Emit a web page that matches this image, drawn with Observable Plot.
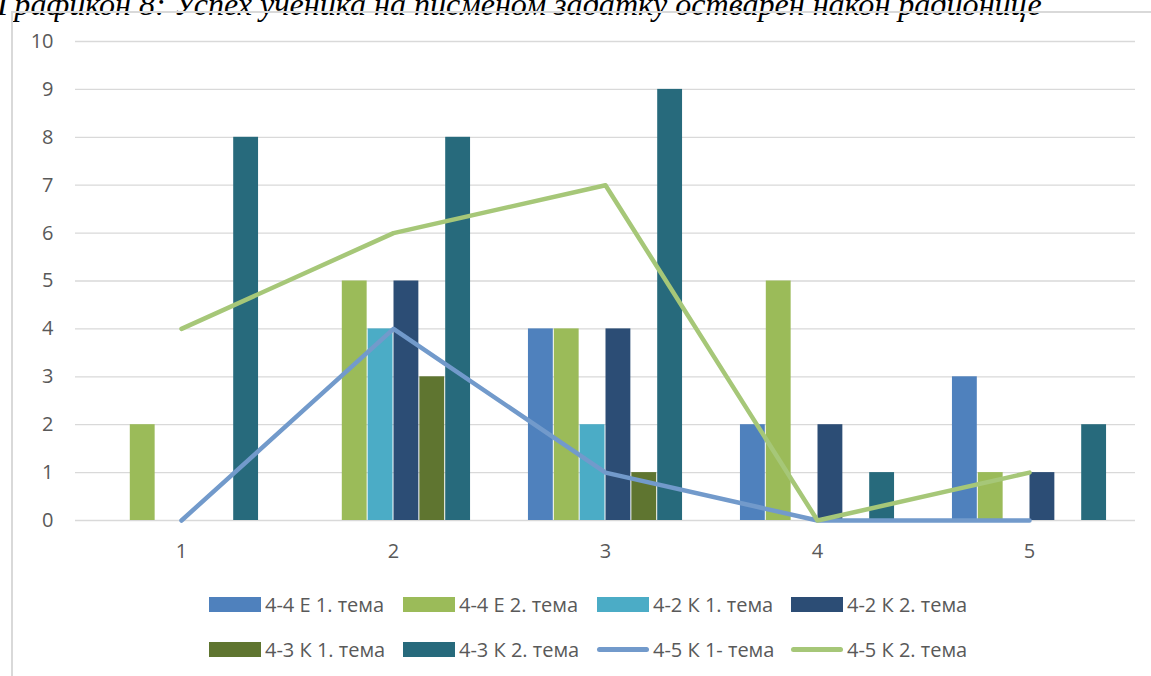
<!DOCTYPE html>
<html>
<head>
<meta charset="utf-8">
<script src="https://cdn.jsdelivr.net/npm/d3@7"></script>
<script src="https://cdn.jsdelivr.net/npm/@observablehq/plot@0.6"></script>
<style>
  html, body { margin: 0; padding: 0; background: #fff; }
  body { width: 1151px; height: 676px; overflow: hidden; position: relative; font-family: "Open Sans", sans-serif; }
  #title { position: absolute; left: -3px; top: -12px; white-space: nowrap; font-family: "Liberation Serif", "Times New Roman", serif; font-style: italic; font-size: 29px; line-height: 1; color: #000; }
  #frame { position: absolute; left: 11px; top: 11px; width: 1200px; height: 700px; border-left: 2px solid #d9d9d9; border-top: 2px solid #d9d9d9; }
  #chart { position: absolute; left: 0; top: 0; }
  .item { position: absolute; display: flex; align-items: center; height: 30px; font-size: 20px; color: #595959; white-space: nowrap; }
  .key { width: 52px; height: 15px; margin-right: 4px; flex: none; }
  .key.line { height: 5px; border-radius: 3px; }
</style>
</head>
<body>
<div id="title"></div>
<div id="chart"></div>
<div id="frame"></div>
<div id="legend"></div>
<script>
// Title and category axis
const titleText = "Графикон 8: Успех ученика на писменом задатку остварен након радионице";
const categories = [1, 2, 3, 4, 5];
const yTicks = [0, 1, 2, 3, 4, 5, 6, 7, 8, 9, 10];

// Column series (number of pupils per grade)
const barSeries = ["4-4 Е 1. тема", "4-4 Е 2. тема", "4-2 К 1. тема", "4-2 К 2. тема", "4-3 К 1. тема", "4-3 К 2. тема"];
const e44t1 = [0, 0, 4, 2, 3];
const e44t2 = [2, 5, 4, 5, 1];
const k42t1 = [0, 4, 2, 0, 0];
const k42t2 = [0, 5, 4, 2, 1];
const k43t1 = [0, 3, 1, 0, 0];
const k43t2 = [8, 8, 9, 1, 2];
const barColors = ["#4F81BD", "#9BBB59", "#4BACC6", "#2C4D75", "#5F7530", "#276A7C"];

// Line series
const lineSeries = ["4-5 К 1- тема", "4-5 К 2. тема"];
const k45t1 = [0, 4, 1, 0, 0];
const k45t2 = [4, 6, 7, 0, 1];
const lineColors = ["#729ACB", "#A6C778"];

const barValues = [e44t1, e44t2, k42t1, k42t2, k43t1, k43t2];
const lineValues = [k45t1, k45t2];

const barRows = barSeries.flatMap((s, i) => categories.map((c, j) => ({cat: c, series: s, value: barValues[i][j]})));
const lineRows = lineSeries.flatMap((s, i) => categories.map((c, j) => ({cat: c, series: s, value: lineValues[i][j]})));

// Title, sized to span the page width
const title = document.getElementById("title");
title.textContent = titleText;
{
  const ctx = document.createElement("canvas").getContext("2d");
  ctx.font = 'italic 29px "Liberation Serif"';
  const w = ctx.measureText(titleText).width;
  title.style.fontSize = (29 * 1045 / w).toFixed(2) + "px";
}

const W = 1151, H = 575;
const mL = 75, mR = 16;
const band = (W - mL - mR) / categories.length;
const slot = 25.85;              // width of one column within a group
const inset = (band - slot) / 2 + 0.5;

const barMarks = barSeries.map((s, i) =>
  Plot.barY(barRows.filter(d => d.series === s), {
    x: "cat", y: "value", fill: barColors[i],
    dx: (i - (barSeries.length - 1) / 2) * slot,
    insetLeft: inset, insetRight: inset
  })
);

const lineMarks = lineSeries.map((s, i) =>
  Plot.line(lineRows.filter(d => d.series === s), {
    x: "cat", y: "value", stroke: lineColors[i], strokeWidth: 4.5,
    strokeLinecap: "round", strokeLinejoin: "round"
  })
);

const chart = Plot.plot({
  width: W, height: H,
  marginTop: 41, marginBottom: 55, marginLeft: mL, marginRight: mR,
  style: {fontFamily: '"Open Sans", sans-serif', fontSize: "20px", color: "#595959", background: "none"},
  x: {type: "band", domain: categories, padding: 0},
  y: {domain: [0, 10]},
  marks: [
    Plot.gridY(yTicks, {stroke: "#d9d9d9", strokeOpacity: 1, strokeWidth: 1.3}),
    Plot.axisY(yTicks, {tickSize: 0, tickPadding: 22, label: null}),
    Plot.axisX({tickSize: 0, tickPadding: 23, label: null}),
    ...barMarks,
    ...lineMarks
  ]
});
document.getElementById("chart").appendChild(chart);

// Legend: two rows of four entries
const legend = document.getElementById("legend");
const entries = [
  ...barSeries.map((s, i) => ({label: s, color: barColors[i], kind: "bar"})),
  ...lineSeries.map((s, i) => ({label: s, color: lineColors[i], kind: "line"}))
];
const colX = [209, 403, 597, 791];
const rowY = [589, 634];
entries.forEach((e, k) => {
  const item = document.createElement("div");
  item.className = "item";
  item.style.left = colX[k % 4] + "px";
  item.style.top = rowY[Math.floor(k / 4)] + "px";
  const key = document.createElement("div");
  key.className = "key" + (e.kind === "line" ? " line" : "");
  key.style.background = e.color;
  const txt = document.createElement("span");
  txt.textContent = e.label;
  item.append(key, txt);
  legend.appendChild(item);
});
</script>
</body>
</html>
